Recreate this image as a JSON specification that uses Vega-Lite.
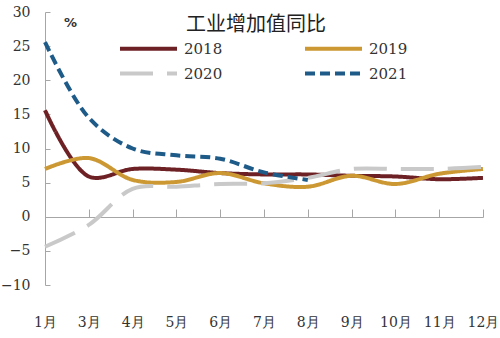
{
  "$schema": "https://vega.github.io/schema/vega-lite/v6.json",
  "width": 438,
  "height": 273,
  "autosize": {"type": "none"},
  "padding": {"left": 45, "top": 12, "right": 17, "bottom": 53},
  "background": "white",
  "title": {
    "text": "工业增加值同比",
    "font": "Noto Sans CJK SC",
    "fontSize": 20,
    "fontWeight": "normal",
    "color": "#222222",
    "anchor": "middle",
    "frame": "group",
    "offset": -30,
    "dx": -8
  },
  "data": {
    "values": [
      {"month": "1月", "year": "2018", "value": 15.6},
      {"month": "3月", "year": "2018", "value": 5.9},
      {"month": "4月", "year": "2018", "value": 7.0},
      {"month": "5月", "year": "2018", "value": 6.9},
      {"month": "6月", "year": "2018", "value": 6.4},
      {"month": "7月", "year": "2018", "value": 6.2},
      {"month": "8月", "year": "2018", "value": 6.2},
      {"month": "9月", "year": "2018", "value": 6.0},
      {"month": "10月", "year": "2018", "value": 5.9},
      {"month": "11月", "year": "2018", "value": 5.5},
      {"month": "12月", "year": "2018", "value": 5.7},
      {"month": "1月", "year": "2019", "value": 7.0},
      {"month": "3月", "year": "2019", "value": 8.6},
      {"month": "4月", "year": "2019", "value": 5.4},
      {"month": "5月", "year": "2019", "value": 5.1},
      {"month": "6月", "year": "2019", "value": 6.4},
      {"month": "7月", "year": "2019", "value": 4.9},
      {"month": "8月", "year": "2019", "value": 4.4},
      {"month": "9月", "year": "2019", "value": 6.0},
      {"month": "10月", "year": "2019", "value": 4.8},
      {"month": "11月", "year": "2019", "value": 6.3},
      {"month": "12月", "year": "2019", "value": 7.0},
      {"month": "1月", "year": "2020", "value": -4.4},
      {"month": "3月", "year": "2020", "value": -1.2},
      {"month": "4月", "year": "2020", "value": 4.1},
      {"month": "5月", "year": "2020", "value": 4.4},
      {"month": "6月", "year": "2020", "value": 4.8},
      {"month": "7月", "year": "2020", "value": 4.9},
      {"month": "8月", "year": "2020", "value": 5.7},
      {"month": "9月", "year": "2020", "value": 7.0},
      {"month": "10月", "year": "2020", "value": 7.0},
      {"month": "11月", "year": "2020", "value": 7.0},
      {"month": "12月", "year": "2020", "value": 7.3},
      {"month": "1月", "year": "2021", "value": 25.6},
      {"month": "3月", "year": "2021", "value": 14.5},
      {"month": "4月", "year": "2021", "value": 10.0},
      {"month": "5月", "year": "2021", "value": 9.0},
      {"month": "6月", "year": "2021", "value": 8.5},
      {"month": "7月", "year": "2021", "value": 6.5},
      {"month": "8月", "year": "2021", "value": 5.4}
    ]
  },
  "mark": {"type": "line", "strokeWidth": 4, "interpolate": "catmull-rom"},
  "encoding": {
    "x": {
      "field": "month",
      "type": "ordinal",
      "sort": ["1月", "3月", "4月", "5月", "6月", "7月", "8月", "9月", "10月", "11月", "12月"],
      "scale": {"type": "point", "padding": 0},
      "axis": {
        "title": null,
        "offset": -68,
        "tickSize": -8,
        "labelPadding": 106,
        "labelAngle": 0,
        "labelFont": "DejaVu Serif",
        "labelFontSize": 14,
        "labelColor": "#333333",
        "domainColor": "#a6a6a6",
        "tickColor": "#a6a6a6",
        "grid": false
      }
    },
    "y": {
      "field": "value",
      "type": "quantitative",
      "scale": {"domain": [-10, 30], "nice": false, "zero": false},
      "axis": {
        "values": [-10, -5, 0, 5, 10, 15, 20, 25, 30],
        "title": "%",
        "titleAngle": 0,
        "titleX": 25,
        "titleY": 10,
        "titleAlign": "center",
        "titleBaseline": "middle",
        "titleFont": "DejaVu Sans",
        "titleFontSize": 13,
        "titleFontWeight": "bold",
        "titleColor": "#333333",
        "tickSize": -5,
        "labelPadding": 20,
        "labelFont": "DejaVu Serif",
        "labelFontSize": 14,
        "labelColor": "#333333",
        "domainColor": "#a6a6a6",
        "tickColor": "#a6a6a6",
        "grid": false
      }
    },
    "color": {
      "field": "year",
      "type": "nominal",
      "scale": {"domain": ["2018", "2020", "2019", "2021"], "range": ["#6d2124", "#c9c9c9", "#cc9833", "#1e5b88"]},
      "legend": {
        "title": null,
        "orient": "none",
        "legendX": 92,
        "legendY": 25,
        "columns": 2,
        "columnPadding": 74,
        "rowPadding": 5,
        "padding": 0,
        "symbolType": "M-3,0H3",
        "symbolSize": 361,
        "symbolStrokeWidth": 4,
        "labelOffset": 24,
        "labelFont": "DejaVu Serif",
        "labelFontSize": 15,
        "labelColor": "#333333"
      }
    },
    "strokeDash": {
      "field": "year",
      "type": "nominal",
      "scale": {"domain": ["2018", "2020", "2019", "2021"], "range": [[1, 0], [33, 14], [1, 0], [10, 5]]},
      "legend": {
        "title": null,
        "orient": "none",
        "legendX": 92,
        "legendY": 25,
        "columns": 2,
        "columnPadding": 74,
        "rowPadding": 5,
        "padding": 0,
        "symbolType": "M-3,0H3",
        "symbolSize": 361,
        "symbolStrokeWidth": 4,
        "labelOffset": 24,
        "labelFont": "DejaVu Serif",
        "labelFontSize": 15,
        "labelColor": "#333333"
      }
    }
  },
  "config": {"view": {"stroke": null}}
}
